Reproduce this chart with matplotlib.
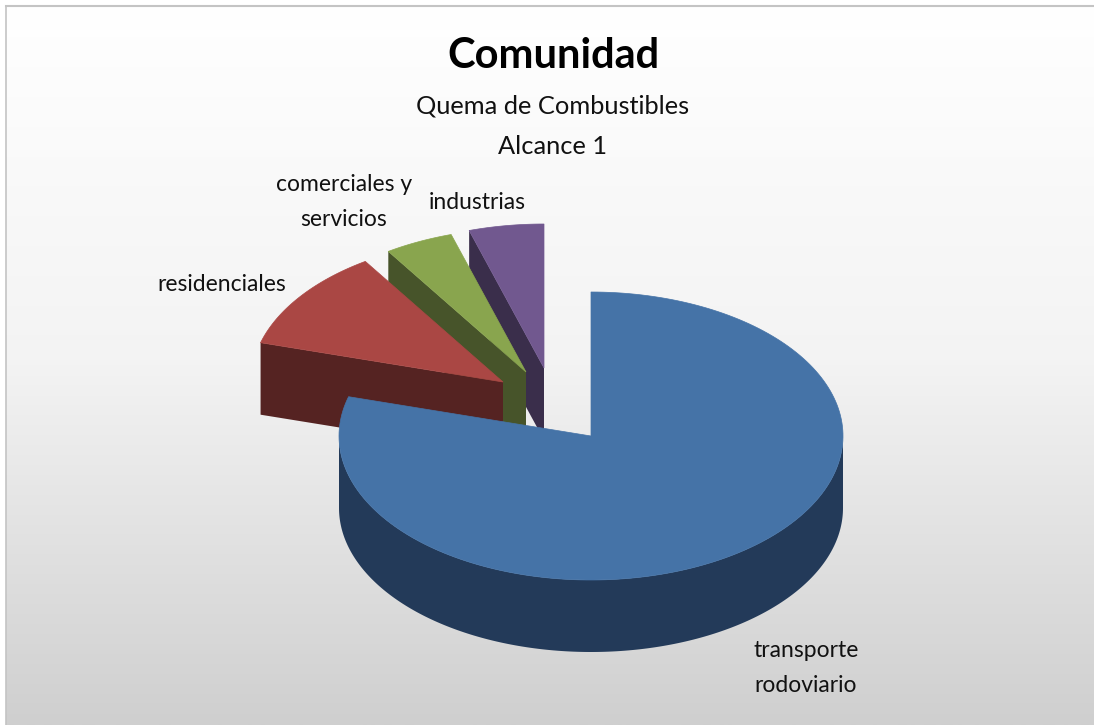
import numpy as np
import matplotlib
matplotlib.use('Agg')
import matplotlib.pyplot as plt
from matplotlib.patches import Polygon

# values (share of emissions, %)
categories = ['transporte\nrodoviario', 'residenciales', 'comerciales y\nservicios', 'industrias']
values = [79.4, 11.4, 4.4, 4.8]
top_colors = ['#4573A7', '#AA4744', '#89A54E', '#71588F']
side_colors = ['#233A59', '#552322', '#47542A', '#3A2E4B']
# explode offset of each slice centre from the pie centre
offsets = [(0, 0), (-88, -54), (-65, -64), (-47, -68)]
label_pos = [(806, 668), (222, 284), (344, 202), (477, 202)]

plt.rcParams['font.family'] = ['Lato', 'DejaVu Sans']

W, H = 1094, 725
fig = plt.figure(figsize=(W / 100, H / 100), dpi=100)
ax = fig.add_axes([0, 0, 1, 1])
ax.axis('off')

# background gradient, chart area starts a few pixels in from the left and top
grad = np.linspace(0, 1, 256).reshape(-1, 1)
cmap = matplotlib.colors.LinearSegmentedColormap.from_list('bg', ['#FFFFFF', '#F3F3F3', '#CFCFCF'])
ax.imshow(grad, extent=[6, W, H, 6], cmap=cmap, aspect='auto', zorder=0)
ax.plot([6, 6], [H, 6], color='#C4C4C4', lw=1.2, zorder=1)
ax.plot([6, W], [6, 6], color='#C4C4C4', lw=1.5, zorder=1)
ax.set_xlim(0, W)
ax.set_ylim(H, 0)

cx, cy = 591, 436
rx, ry = 252, 144
depth = 72


def rim(c, a0, a1):
    t = np.radians(np.linspace(a0, a1, 200))
    return np.column_stack([c[0] + rx * np.sin(t), c[1] - ry * np.cos(t)])


# slices go clockwise from 12 o'clock
edges = np.concatenate([[0], np.cumsum(values) * 3.6])

# back slices first, the big front one last
for i in [3, 2, 1, 0]:
    a0, a1 = edges[i], edges[i + 1]
    c = (cx + offsets[i][0], cy + offsets[i][1])
    arc = rim(c, a0, a1)
    z = 2 + (3 - i)

    if i == 0:
        # outer wall of the front slice
        front = rim(c, 90, 270)
        outer = np.vstack([front, (front + [0, depth])[::-1]])
        ax.add_patch(Polygon(outer, fc=side_colors[i], ec='none', zorder=z))
    else:
        # cut wall facing the viewer
        start = arc[0]
        wall = [c, start, (start[0], start[1] + depth), (c[0], c[1] + depth)]
        ax.add_patch(Polygon(wall, fc=side_colors[i], ec='none', zorder=z))
    ax.add_patch(Polygon(np.vstack([[c], arc]), fc=top_colors[i], ec=top_colors[i], lw=0.5,
                         zorder=z + 0.5))

for name, (x, y) in zip(categories, label_pos):
    ax.text(x, y, name, ha='center', va='center', fontsize=16.5, color='#111111',
            linespacing=1.8, zorder=10)

ax.text(553, 56, 'Comunidad', ha='center', va='center', fontsize=30, fontweight='bold', color='black', zorder=10)
ax.text(553, 106, 'Quema de Combustibles', ha='center', va='center', fontsize=18.3, color='#111111', zorder=10)
ax.text(553, 146, 'Alcance 1', ha='center', va='center', fontsize=18.3, color='#111111', zorder=10)

fig.savefig('out.png', dpi=100)
